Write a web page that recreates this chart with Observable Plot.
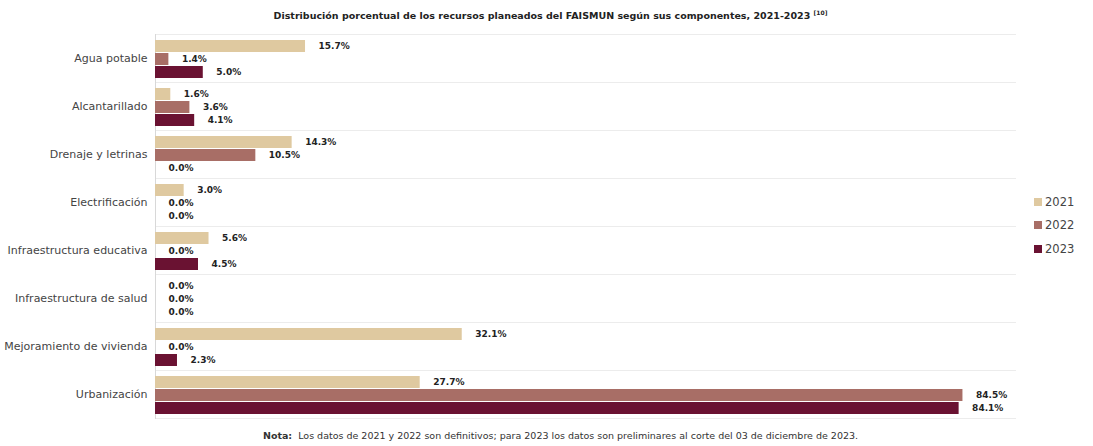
<!DOCTYPE html>
<html>
<head>
<meta charset="utf-8">
<script src="https://cdn.jsdelivr.net/npm/d3@7"></script>
<script src="https://cdn.jsdelivr.net/npm/@observablehq/plot@0.6"></script>
<style>
  html, body { margin: 0; padding: 0; background: #fff; }
  body { width: 1093px; height: 446px; position: relative; overflow: hidden; font-family: "DejaVu Sans", sans-serif; }
  #title { height: 22px; line-height: 26px; text-align: center; font-size: 9.5px; font-weight: bold; color: #222; padding-left: 8px; }
  #title sup { font-size: 6px; }
  #note { text-align: center; font-size: 9.5px; color: #333; padding-left: 28px; line-height: 16px; }
  #legend { position: absolute; left: 1034px; top: 190px; font-size: 11.5px; color: #444; }
  #legend .row { height: 23.5px; display: flex; align-items: center; }
  #legend .sw { width: 8px; height: 8px; margin-right: 3px; }
</style>
</head>
<body>
<div id="title">Distribución porcentual de los recursos planeados del FAISMUN según sus componentes, 2021-2023 <sup>[10]</sup></div>
<div id="chart"></div>
<div id="note"><b>Nota:</b>&nbsp; Los datos de 2021 y 2022 son definitivos; para 2023 los datos son preliminares al corte del 03 de diciembre de 2023.</div>
<div id="legend"></div>
<script>
const categories = [
  "Agua potable",
  "Alcantarillado",
  "Drenaje y letrinas",
  "Electrificación",
  "Infraestructura educativa",
  "Infraestructura de salud",
  "Mejoramiento de vivienda",
  "Urbanización"
];
const years = ["2021", "2022", "2023"];
const values2021 = [15.7, 1.6, 14.3, 3.0, 5.6, 0.0, 32.1, 27.7];
const values2022 = [1.4, 3.6, 10.5, 0.0, 0.0, 0.0, 0.0, 84.5];
const values2023 = [5.0, 4.1, 0.0, 0.0, 4.5, 0.0, 2.3, 84.1];
const colors = ["#dfc9a0", "#a86e66", "#6a1232"];

const series = [values2021, values2022, values2023];
const data = [];
categories.forEach((c, i) => {
  years.forEach((y, j) => data.push({category: c, year: y, value: series[j][i]}));
});

const chart = Plot.plot({
  width: 1093,
  height: 406,
  marginLeft: 155,
  marginRight: 78,
  marginTop: 11,
  marginBottom: 9,
  style: {fontFamily: "DejaVu Sans, sans-serif", background: "#fff"},
  x: {domain: [0, 90], axis: null},
  y: {domain: years, axis: null, paddingInner: 0.06, paddingOuter: 0.28, align: 0.62},
  fy: {domain: categories, padding: 0, label: null},
  color: {domain: years, range: colors},
  marks: [
    Plot.frame({anchor: "top", stroke: "#ececec"}),
    Plot.frame({anchor: "bottom", stroke: "#ececec"}),
    Plot.frame({anchor: "left", stroke: "#d8d8d8"}),
    Plot.barX(data, {x: "value", y: "year", fy: "category", fill: "year"}),
    Plot.text(data, {
      x: "value", y: "year", fy: "category",
      text: d => d.value.toFixed(1) + "%",
      textAnchor: "start", dx: 13,
      fontWeight: "bold", fontSize: 9, fill: "#222"
    }),
    Plot.axisFy({anchor: "left", tickSize: 0, tickPadding: 8, fontSize: 11, color: "#444", label: null})
  ]
});
document.getElementById("chart").appendChild(chart);

const legend = d3.select("#legend");
years.forEach((y, i) => {
  const row = legend.append("div").attr("class", "row");
  row.append("div").attr("class", "sw").style("background", colors[i]);
  row.append("span").text(y);
});
</script>
</body>
</html>
